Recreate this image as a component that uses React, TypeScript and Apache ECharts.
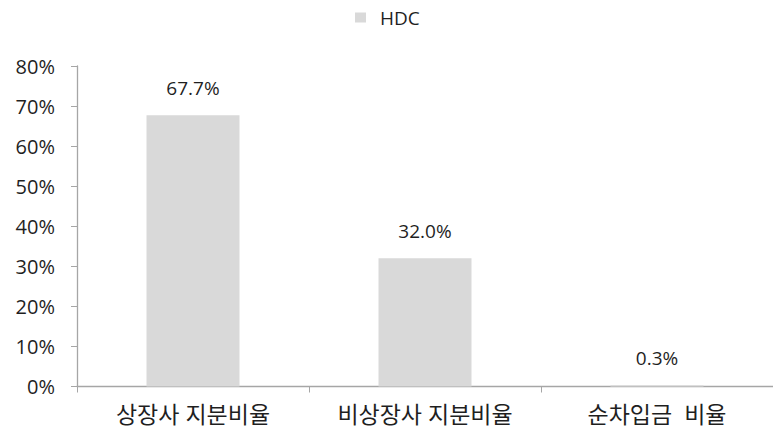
import React, { useEffect, useRef } from "react";
import * as echarts from "echarts";

const categories = ["상장사 지분비율", "비상장사 지분비율", "순차입금  비율"];
const hdcValues = [67.7, 32.0, 0.3];
const seriesName = "HDC";
const yTicks = { min: 0, max: 80, interval: 10 };

const FONT = "'Open Sans', 'Noto Sans CJK KR', sans-serif";
const TEXT = "#1f1f1f";

export default function App() {
  const ref = useRef<HTMLDivElement>(null);
  useEffect(() => {
    if (!ref.current) return;
    const chart = echarts.init(ref.current, undefined, { renderer: "svg" });
    chart.setOption({
      animation: false,
      textStyle: { fontFamily: FONT, color: TEXT },
      legend: {
        data: [seriesName],
        top: 8,
        left: 355,
        padding: 0,
        itemWidth: 11,
        itemHeight: 10,
        icon: "rect",
        textStyle: { fontFamily: FONT, fontSize: 19, color: TEXT, padding: [0, 0, 0, 9] },
      },
      grid: { left: 77, right: -7, top: 66, bottom: 45.5, containLabel: false },
      xAxis: {
        type: "category",
        data: categories,
        axisLine: { show: true, lineStyle: { color: "#a6a6a6", width: 1.3 } },
        axisTick: { show: true, length: 6, alignWithLabel: false, lineStyle: { color: "#a6a6a6" } },
        axisLabel: { fontFamily: FONT, fontSize: 23, color: TEXT, margin: 16, interval: 0 },
        splitLine: { show: false },
      },
      yAxis: {
        type: "value",
        min: yTicks.min,
        max: yTicks.max,
        interval: yTicks.interval,
        axisLine: { show: true, lineStyle: { color: "#a6a6a6", width: 1.3 } },
        axisTick: { show: true, length: 6, lineStyle: { color: "#a6a6a6" } },
        axisLabel: {
          fontFamily: FONT,
          fontSize: 20,
          color: TEXT,
          margin: 22,
          formatter: (v: number) => `${v}%`,
        },
        splitLine: { show: false },
      },
      series: [
        {
          name: seriesName,
          type: "bar",
          data: hdcValues,
          barWidth: 93,
          itemStyle: { color: "#d9d9d9" },
          label: {
            show: true,
            position: "top",
            distance: 18,
            fontFamily: FONT,
            fontSize: 19,
            color: TEXT,
            formatter: (p: any) => `${p.value.toFixed(1)}%`,
          },
        },
      ],
    });
    return () => chart.dispose();
  }, []);
  return <div ref={ref} style={{ width: 773, height: 432, position: "absolute", left: 0, top: 0 }} />;
}
